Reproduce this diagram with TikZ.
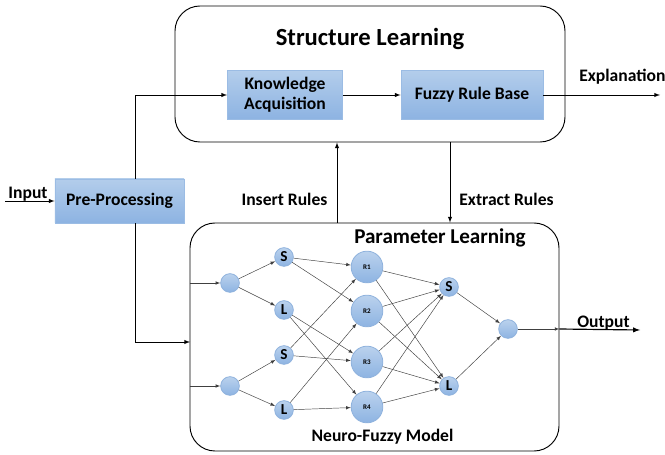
\documentclass[tikz,border=0pt]{standalone}
\usepackage{fontspec}
\setmainfont{Carlito}
\usepackage{tikz}

\definecolor{boxtop}{HTML}{B3CDEB}
\definecolor{boxbot}{HTML}{8DB3E2}
\definecolor{boxline}{HTML}{9BBCE4}
\definecolor{cellline}{HTML}{8FB2DD}

\begin{document}
\begin{tikzpicture}[x = 0.03cm, y = -0.03cm, >=latex, line width = 0.7pt,
								frame/.style = {draw, rounded corners = 0.75cm, line width = 0.8pt},
								block/.style = {draw = boxline, top color = boxtop, bottom color = boxbot,
								align = center, font = \bfseries\fontsize{15}{17}\selectfont},
								cell/.style = {circle, draw = cellline, top color = boxtop!90, bottom color = boxbot,
								minimum size = 0.56cm, inner sep = 0pt, font = \bfseries\fontsize{13}{13}\selectfont},
								rule/.style = {cell, minimum size = 0.95cm, font = \bfseries\fontsize{6}{6}\selectfont},
								wire/.style = {->, line width = 0.4pt, draw = black!75},
								tag/.style = {font = \bfseries\fontsize{15}{16}\selectfont}]

				\useasboundingbox (0,0) rectangle (665,455);

				% structure learning part
				\node [frame, minimum width = 11.7cm, minimum height = 4.08cm] (sl) at (370,74) {};
				\node [font = \bfseries\fontsize{21}{22}\selectfont] (slTitle) at (370,39) {Structure Learning};
				\node [block, minimum width = 3.45cm, minimum height = 1.47cm] (ka) at (285,95) {Knowledge\\Acquisition};
				\node [block, minimum width = 4.26cm, minimum height = 1.47cm] (frb) at (472,95) {Fuzzy Rule Base};
				\node [block, minimum width = 3.87cm, minimum height = 1.32cm] (pp) at (119.5,201) {Pre-Processing};

				% parameter learning part
				\node [frame, minimum width = 11.07cm, minimum height = 6.84cm] (nf) at (374.5,337) {};
				\node [font = \bfseries\fontsize{18}{19}\selectfont] (plTitle) at (440,238) {Parameter Learning};
				\node [tag] (nfTitle) at (382.5,437) {Neuro-Fuzzy Model};

				\coordinate (split) at (135,95);
				\coordinate (nfIn) at (190,342);
				\coordinate (inStart) at (5,201);
				\coordinate (explEnd) at (660,95);
				\coordinate (outEnd) at (640,330);
				\coordinate (ins) at (337,0);
				\coordinate (ext) at (450,0);

				\draw [->] (inStart) -- (pp.west |- inStart);
				\node [tag] (inLabel) at (28,194) {Input};
				\draw [->] (pp.north -| split) -- (split) -- (ka.west);
				\draw [->] (pp.south -| split) |- (nfIn);
				\draw [->] (ka) -- (frb);
				\draw [->] (frb) -- (explEnd);
				\node [tag, anchor = west] (explLabel) at (575,77) {Explanation};
				\draw [->] (nf.north -| ins) -- (sl.south -| ins);
				\node [tag] (insLabel) at (284.5,199) {Insert Rules};
				\draw [->] (sl.south -| ext) -- (nf.north -| ext);
				\node [tag] (extLabel) at (506.5,199) {Extract Rules};

				% network
				\node [cell] (x_1) at (230,283) {};
				\node [cell] (x_2) at (230,386) {};
				\node [cell] (s_1) at (284,257) {S};
				\node [cell] (l_1) at (284,310) {L};
				\node [cell] (s_2) at (284,355) {S};
				\node [cell] (l_2) at (284,410) {L};
				\node [rule] (r_1) at (367,267) {R1};
				\node [rule] (r_2) at (367,311) {R2};
				\node [rule] (r_3) at (367,362) {R3};
				\node [rule] (r_4) at (367,407) {R4};
				\node [cell] (s_o) at (449,287) {S};
				\node [cell] (l_o) at (449,386) {L};
				\node [cell] (y) at (508,329) {};

				\draw [wire] (nf.west |- x_1) -- (x_1);
				\draw [wire] (nf.west |- x_2) -- (x_2);
				\draw [wire] (x_1) -- (s_1);
				\draw [wire] (x_1) -- (l_1);
				\draw [wire] (x_2) -- (s_2);
				\draw [wire] (x_2) -- (l_2);
				\draw [wire] (s_1) -- (r_1);
				\draw [wire] (s_1) -- (r_2);
				\draw [wire] (l_1) -- (r_3);
				\draw [wire] (l_1) -- (r_4);
				\draw [wire] (s_2) -- (r_1);
				\draw [wire] (s_2) -- (r_3);
				\draw [wire] (l_2) -- (r_2);
				\draw [wire] (l_2) -- (r_4);
				\draw [wire] (r_1) -- (s_o);
				\draw [wire] (r_1) -- (l_o);
				\draw [wire] (r_2) -- (s_o);
				\draw [wire] (r_2) -- (l_o);
				\draw [wire] (r_3) -- (s_o);
				\draw [wire] (r_3) -- (l_o);
				\draw [wire] (r_4) -- (s_o);
				\draw [wire] (r_4) -- (l_o);
				\draw [wire] (s_o) -- (y);
				\draw [wire] (l_o) -- (y);
				\draw [wire] (y) -- (nf.east |- y);
				\draw [->, line width = 1pt] (nf.east |- y) -- (outEnd);
				\node [tag] (outLabel) at (603.5,323) {Output};
\end{tikzpicture}
\end{document}
